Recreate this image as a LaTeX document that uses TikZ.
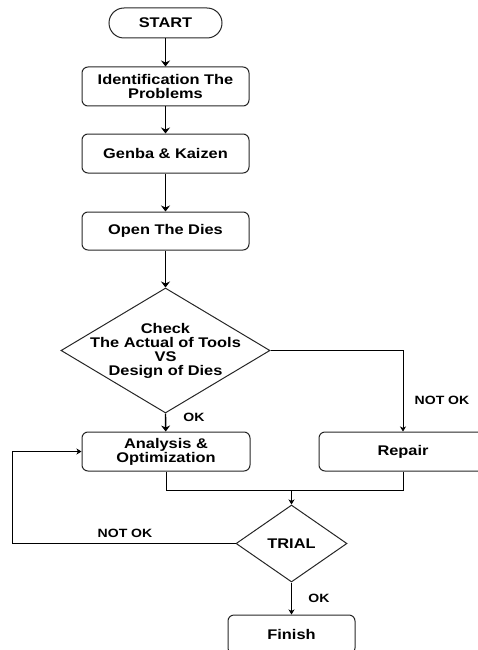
\documentclass[tikz,border=0pt]{standalone}
\usepackage{fontspec}
\setmainfont{Liberation Sans}[FakeStretch=1.17]
\usetikzlibrary{arrows.meta,shapes.geometric,calc}
\begin{document}
\begin{tikzpicture}[x=1pt,y=-1pt,
  txt/.style={font=\fontsize{14}{13.8}\selectfont\bfseries, align=center},
  lbl/.style={font=\fontsize{12}{12}\selectfont\bfseries, inner sep=0pt},
  box/.style={draw=black!85, line width=1pt, rounded corners=6pt, txt, inner sep=0pt},
  term/.style={draw=black!85, line width=1pt, rounded corners=15pt, txt, inner sep=0pt},
  dia/.style={draw=black!85, line width=1pt, diamond, inner sep=0pt},
  thick arrow/.style={line width=1.4pt, -{Stealth[length=6pt,width=9pt,inset=2pt]}},
  thin arrow/.style={line width=0.8pt, -{Stealth[length=5pt,width=6pt,inset=1.5pt]}},
  thin line/.style={line width=0.8pt}
]
\clip (0,0) rectangle (478,650);
\useasboundingbox (0,0) rectangle (478,650);

\node[term, minimum width=113pt, minimum height=30pt] (start) at (165.5,23) {START};
\node[box, minimum width=167pt, minimum height=39pt] (ident) at (165.5,86.5) {Identification The\\Problems};
\node[box, minimum width=167pt, minimum height=39pt] (genba) at (165.5,153.5) {Genba \& Kaizen};
\node[box, minimum width=167pt, minimum height=38pt] (open) at (165.5,231) {Open The Dies};
\node[dia, minimum width=209pt, minimum height=125pt] (check) at (165.5,350.5) {};
\node[txt] (checktxt) at (165.5,351) {Check\\The Actual of Tools\\VS\\Design of Dies};
\node[box, minimum width=168pt, minimum height=39pt] (ana) at (166,451.5) {Analysis \&\\Optimization};
\node[box, minimum width=168pt, minimum height=39pt] (repair) at (403,451.5) {Repair};
\node[dia, minimum width=111pt, minimum height=77pt] (trial) at (291.5,543.5) {};
\node[txt] (trialtxt) at (291.5,543.5) {TRIAL};
\node[box, minimum width=127pt, minimum height=39pt] (finish) at (291.5,634.5) {Finish};

\coordinate (mergeL) at (166,490);
\coordinate (mergeR) at (403,490);
\coordinate (merge) at (291.5,490);
\coordinate (loopB) at (12,543.5);
\coordinate (loopT) at (12,451.5);

\draw[thick arrow] (start) -- (ident);
\draw[thick arrow] (ident) -- (genba);
\draw[thick arrow] (genba) -- (open);
\draw[thick arrow] (open) -- (check.north);
\draw[thick arrow] (check.south) -- (ana);
\draw[thin arrow] (check.east) -| (repair.north);
\draw[thin line] (ana.south) -- (mergeL) -- (mergeR) -- (repair.south);
\draw[thin arrow] (merge) -- (trial.north);
\draw[thin arrow] (trial.west) -- (loopB) -- (loopT) -- (ana.west);
\draw[thin arrow] (trial.south) -- (finish.north);

\node[lbl] (okA) at (194,417) {OK};
\node[lbl] (notokA) at (442,400) {NOT OK};
\node[lbl] (notokB) at (125,533) {NOT OK};
\node[lbl] (okB) at (319,598) {OK};
\end{tikzpicture}
\end{document}
